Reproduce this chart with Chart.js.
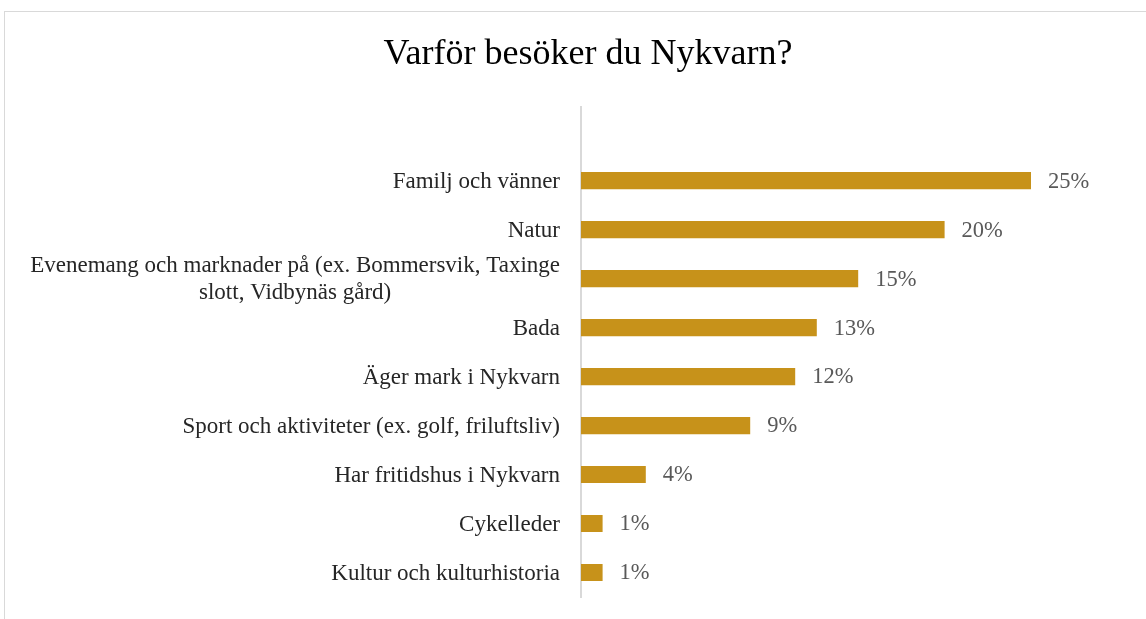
<!DOCTYPE html>
<html>
<head>
<meta charset="utf-8">
<script src="https://cdn.jsdelivr.net/npm/chart.js@4/dist/chart.umd.min.js"></script>
<style>
  html, body { margin: 0; padding: 0; background: #fff; overflow: hidden; }
  #wrap { position: absolute; left: 0; top: 0; width: 1146px; height: 619px; }
</style>
</head>
<body>
<div id="wrap"><canvas id="chart" width="1146" height="619"></canvas></div>
<script>
// Chart data
const categories = [
    '',
    'Familj och vänner',
    'Natur',
    ['Evenemang och marknader på (ex. Bommersvik, Taxinge', 'slott, Vidbynäs gård)'],
    'Bada',
    'Äger mark i Nykvarn',
    'Sport och aktiviteter (ex. golf, friluftsliv)',
    'Har fritidshus i Nykvarn',
    'Cykelleder',
    'Kultur och kulturhistoria'
];
const shares = [null, 25, 20.2, 15.4, 13.1, 11.9, 9.4, 3.6, 1.2, 1.2];
const valueLabels = ['', '25%', '20%', '15%', '13%', '12%', '9%', '4%', '1%', '1%'];
const xTicks = [0, 30];

const SERIF = '"Liberation Serif", "DejaVu Serif", serif';
const AXIS_X = 581;
const PAD_LEFT = 55;

// outer frame like the exported chart object
const framePlugin = {
    id: 'frame',
    beforeDraw(chart) {
        const ctx = chart.ctx;
        ctx.save();
        ctx.strokeStyle = '#d9d9d9';
        ctx.lineWidth = 1;
        ctx.strokeRect(4.5, 11.5, 1300, 800);
        ctx.restore();
    }
};

// category labels: right aligned block, lines centred inside it
const categoryLabelPlugin = {
    id: 'categoryLabels',
    afterDraw(chart) {
        const ctx = chart.ctx;
        const yScale = chart.scales.y;
        const right = AXIS_X - 21;
        ctx.save();
        ctx.font = '23px ' + SERIF;
        ctx.fillStyle = '#262626';
        ctx.textBaseline = 'middle';
        categories.forEach((label, i) => {
            const lines = Array.isArray(label) ? label : [label];
            const widths = lines.map(l => ctx.measureText(l).width);
            const maxW = Math.max(...widths);
            const center = right - maxW / 2;
            const lineH = 27;
            const y0 = yScale.getPixelForTick(i) + 1 - (lines.length - 1) * lineH / 2;
            ctx.textAlign = 'center';
            lines.forEach((l, j) => ctx.fillText(l, center, y0 + j * lineH));
        });
        ctx.restore();
    }
};

// percentage labels at the end of each bar
const valueLabelPlugin = {
    id: 'valueLabels',
    afterDatasetsDraw(chart) {
        const ctx = chart.ctx;
        const meta = chart.getDatasetMeta(0);
        ctx.save();
        ctx.font = '22.5px ' + SERIF;
        ctx.fillStyle = '#595959';
        ctx.textAlign = 'left';
        ctx.textBaseline = 'middle';
        meta.data.forEach((bar, i) => {
            if (shares[i] == null) return;
            ctx.fillText(valueLabels[i], bar.x + 17, bar.y + 1);
        });
        ctx.restore();
    }
};

new Chart(document.getElementById('chart'), {
    type: 'bar',
    data: {
        labels: categories,
        datasets: [{
            data: shares,
            backgroundColor: '#C7921A',
            borderWidth: 0,
            barPercentage: 0.35,
            categoryPercentage: 1
        }]
    },
    options: {
        indexAxis: 'y',
        responsive: false,
        animation: false,
        layout: { padding: { top: 0, right: 25, bottom: 22, left: PAD_LEFT } },
        scales: {
            x: {
                display: false,
                min: xTicks[0],
                max: xTicks[1]
            },
            y: {
                grid: { display: false },
                border: { display: true, color: '#d9d9d9', width: 2 },
                ticks: { display: false },
                afterFit(scale) { scale.width = AXIS_X - PAD_LEFT; }
            }
        },
        plugins: {
            legend: { display: false },
            tooltip: { enabled: false },
            title: {
                display: true,
                text: 'Varför besöker du Nykvarn?',
                color: '#000',
                font: { family: SERIF, size: 36, weight: 'normal', lineHeight: 1.2 },
                padding: { top: 33, bottom: 31 }
            }
        }
    },
    plugins: [framePlugin, categoryLabelPlugin, valueLabelPlugin]
});
</script>
</body>
</html>
